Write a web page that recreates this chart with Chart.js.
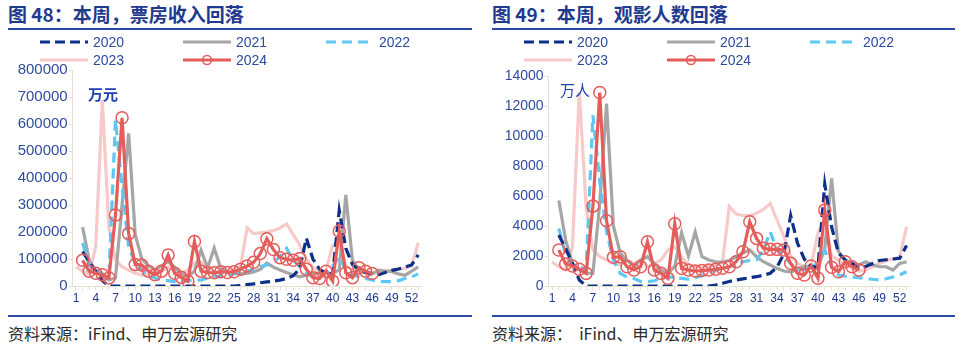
<!DOCTYPE html>
<html>
<head>
<meta charset="utf-8">
<script src="https://cdn.jsdelivr.net/npm/chart.js@4.4.1/dist/chart.umd.min.js"></script>
<style>
  body { margin: 0; width: 960px; height: 348px; background: #fff; position: relative; overflow: hidden;
         font-family: "Noto Sans CJK SC", "Noto Sans", sans-serif; }
  .panel { position: absolute; top: 0; width: 480px; height: 348px; }
  .title { position: absolute; left: 8px; top: 1px; font-size: 19px; font-weight: bold; color: #1f3a8f;
           line-height: 26px; white-space: nowrap; }
  .rule { position: absolute; left: 8px; height: 2px; background: #2b4aa3; }
  .foot { position: absolute; left: 8px; top: 323px; font-size: 16px; color: #2a2a2a; line-height: 20px; white-space: pre; }
  .unit { position: absolute; font-size: 15px; line-height: 16px; color: #1f40b0; z-index: 3; }
  .leg { position: absolute; height: 16px; display: flex; align-items: center; z-index: 3;
         font-family: "Liberation Sans", Arial, sans-serif; font-size: 14px; color: #2b4aa0; }
  .leg svg { margin-right: 5px; }
  canvas { position: absolute; }
</style>
</head>
<body>
<div class="panel" id="p1" style="left:0">
  <div class="title">图 48：本周，票房收入回落</div>
  <div class="rule" style="top:28px;width:464px"></div>
  <div class="unit" style="left:88px;top:86px;font-weight:bold">万元</div>
  <canvas id="boxChart" width="480" height="256" style="left:0;top:58px"></canvas>
  <div class="rule" style="top:315px;width:464px"></div>
  <div class="foot">资料来源：iFind、申万宏源研究</div>
</div>
<div class="panel" id="p2" style="left:484px">
  <div class="title">图 49：本周，观影人数回落</div>
  <div class="rule" style="top:28px;width:463px"></div>
  <div class="unit" style="left:76px;top:82px">万人</div>
  <canvas id="audChart" width="476" height="250" style="left:0;top:64px"></canvas>
  <div class="rule" style="top:315px;width:463px"></div>
  <div class="foot">资料来源：  iFind、申万宏源研究</div>
</div>
<script>
// week numbers on the category axis
const weeks = [1,2,3,4,5,6,7,8,9,10,11,12,13,14,15,16,17,18,19,20,21,22,23,24,25,26,27,
  28,29,30,31,32,33,34,35,36,37,38,39,40,41,42,43,44,45,46,47,48,49,50,51,52,53];
const years = ['2020', '2021', '2022', '2023', '2024'];

// weekly box office, 万元
const box2020 = [null,127000,90000,55000,20000,0,0,0,0,0,0,0,0,0,0,0,0,0,0,0,0,0,0,0,0,
  2000,5000,8000,12000,15000,18000,22000,28000,38000,65000,177000,100000,62000,47000,45000,
  280000,140000,80000,60000,50000,45000,42000,50000,58000,63000,70000,78000,115000];
const box2021 = [null,218000,96000,52000,37000,22000,30000,300000,565000,190000,
  100000,75000,60000,75000,90000,70000,45000,35000,55000,133000,
  68000,140000,65000,53000,48000,45000,47000,52000,62000,85000,
  70000,59000,50000,42000,34000,40000,45000,47000,47000,47000,
  60000,337000,96000,59000,50000,45000,59000,55000,53000,45000,40000,55000,71000];
const box2022 = [null,159000,78000,60000,45000,35000,615000,370000,145000,84000,
  59000,40000,30000,22000,20000,16000,16000,20000,22000,22000,
  30000,34000,38000,40000,45000,50000,55000,60000,72000,78000,
  90000,108000,139000,96000,71000,47000,34000,38000,47000,75000,
  108000,59000,40000,34000,28000,22000,16000,16000,16000,20000,28000,34000,45000];
const box2023 = [71000,55000,45000,145000,689000,216000,96000,71000,59000,47000,
  40000,45000,50000,55000,70000,55000,45000,60000,85000,90000,
  60000,50000,50000,55000,60000,70000,216000,194000,197000,200000,
  205000,215000,230000,190000,152000,100000,70000,47000,60000,150000,
  160000,75000,60000,55000,50000,48000,50000,55000,58000,62000,66000,74000,160000];
const box2024 = [null,95000,55000,47000,42000,30000,263000,623000,194000,80000,
  78000,55000,42000,55000,115000,47000,32000,18000,165000,55000,
  50000,49000,53000,50000,53000,62000,74000,88000,120000,175000,
  135000,105000,99000,95000,102000,62000,31000,28000,55000,18000,
  204000,49000,31000,68000,55000,46000];

// weekly admissions, 万人
const aud2020 = [null,3400,2500,1500,400,0,0,0,0,0,0,0,0,0,0,0,0,0,0,0,0,0,0,0,
  60,180,300,400,480,550,620,720,850,1250,2150,4700,2850,1800,1300,1250,
  6800,3950,2200,1730,1500,1180,1300,1500,1700,1750,1800,1850,2700];
const aud2021 = [null,5700,3060,1500,1100,850,850,5500,12160,4000,
  2200,1730,1300,1730,1950,1500,1065,850,1300,3550,
  2000,3600,1950,1730,1618,1600,1700,1950,2200,2400,
  1950,1618,1400,1178,1000,950,1100,1300,1250,1178,
  2500,7170,2300,1730,1500,1400,1618,1400,1285,1285,1065,1511,1618];
const aud2022 = [null,3840,2064,1400,1285,1065,11384,7000,3600,1730,
  845,600,500,300,290,350,500,620,550,512,
  450,550,700,900,1065,1200,1285,1450,1618,1700,
  1750,2397,3615,2397,1950,1511,1065,1100,1285,1500,
  2400,1285,732,650,600,550,500,450,400,480,600,750,950];
const aud2023 = [1618,1285,1065,2617,12935,5280,2400,1950,1730,1511,
  1400,1730,1511,1730,1285,1500,1730,2400,2617,1950,
  1400,1300,1250,1300,1400,1600,5300,4800,4700,4700,
  4850,5100,5500,4400,3300,2000,1500,1285,1400,3500,
  4500,2000,1730,1400,1200,1000,1065,1300,1500,1700,1800,1950,3950];
const aud2024 = [null,2397,1465,1331,1110,843,5326,12895,4350,1910,
  1950,1285,1065,1285,2950,1065,843,510,4150,1178,
  1065,1000,1030,1065,1110,1178,1285,1618,2283,4280,
  3175,2510,2443,2443,2397,1511,845,732,1331,512,
  5059,1245,952,1618,1285,1065];

// line look per year; order puts 2024 on top and 2023 at the back
const looks = {
  '2020': { color: '#0c2f8a', dash: [10, 5], order: 1 },
  '2021': { color: '#a6a6a6', dash: [], order: 3 },
  '2022': { color: '#5cc8f3', dash: [10, 6], order: 2 },
  '2023': { color: '#f7caca', dash: [], order: 4 },
  '2024': { color: '#e45d5b', dash: [], order: 0, dot: true }
};

function makeSets(series) {
  return years.map((y, i) => {
    const lk = looks[y];
    return {
      label: y,
      data: series[i],
      borderColor: lk.color,
      borderWidth: 3.2,
      borderDash: lk.dash,
      tension: 0,
      order: lk.order,
      pointRadius: lk.dot ? 6 : 0,
      pointBorderWidth: 1.5,
      pointBorderColor: lk.color,
      pointBackgroundColor: 'rgba(255,255,255,0)'
    };
  });
}

function legend(panelId) {
  const panel = document.getElementById(panelId);
  const cols = [40, 183, 326], rows = [34, 52];
  years.forEach((y, i) => {
    const lk = looks[y];
    const d = document.createElement('div');
    d.className = 'leg';
    d.style.left = cols[i % 3] + 'px';
    d.style.top = rows[Math.floor(i / 3)] + 'px';
    const dash = lk.dash.length ? `stroke-dasharray="${lk.dash.join(' ')}"` : '';
    const dot = lk.dot ? `<circle cx="24" cy="8" r="4.5" fill="none" stroke="${lk.color}" stroke-width="1.5"/>` : '';
    d.innerHTML = `<svg width="48" height="16"><line x1="0" y1="8" x2="48" y2="8" stroke="${lk.color}" stroke-width="3" ${dash}/>${dot}</svg>${y}`;
    panel.appendChild(d);
  });
}

const axisColor = '#e4e0d2';

function makeChart(id, series, yMax, yStep, yFont, axisWidth, padRight, padTop) {
  return new Chart(document.getElementById(id), {
    type: 'line',
    data: { labels: weeks, datasets: makeSets(series) },
    options: {
      responsive: false,
      animation: false,
      events: [],
      layout: { padding: { left: 0, right: padRight, top: padTop, bottom: 8 } },
      plugins: { legend: { display: false }, tooltip: { enabled: false } },
      scales: {
        x: {
          offset: true,
          grid: { drawOnChartArea: false, tickLength: 4, color: axisColor },
          border: { color: axisColor },
          ticks: {
            autoSkip: false, maxRotation: 0, padding: 1, color: '#1f3a8f',
            font: { family: "'Liberation Sans Narrow', 'Liberation Sans', Arial", size: 12 },
            callback: (v, i) => (i % 3 === 0 ? weeks[i] : '')
          },
          afterFit: s => { s.height = 20; }
        },
        y: {
          min: 0, max: yMax,
          grid: { drawOnChartArea: false, tickLength: 4, color: axisColor },
          border: { color: axisColor },
          ticks: {
            stepSize: yStep, padding: 1, color: '#2f4b9e',
            font: { family: "'Liberation Sans', Arial", size: yFont },
            callback: v => String(v)
          },
          afterFit: s => { s.width = axisWidth; }
        }
      }
    }
  });
}

legend('p1');
legend('p2');
makeChart('boxChart', [box2020, box2021, box2022, box2023, box2024], 800000, 100000, 15, 72.7, 58.5, 12);
makeChart('audChart', [aud2020, aud2021, aud2022, aud2023, aud2024], 14000, 2000, 14, 64.6, 50, 12);
</script>
</body>
</html>
